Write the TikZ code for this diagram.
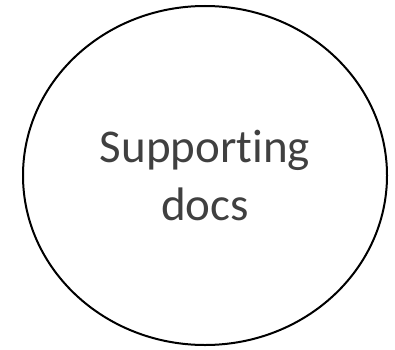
\documentclass[tikz,border=0pt]{standalone}
\usepackage{fontspec}
\setmainfont{Carlito}[Ligatures=NoCommon]
\usepackage{tikz}
\usetikzlibrary{shapes.geometric}
\definecolor{textgrey}{HTML}{404040}
\tikzset{docnode/.style={ellipse, draw=black, line width=2pt, minimum width=364pt, minimum height=339pt, inner sep=0pt, align=center, text=textgrey, font=\fontsize{47}{57}\selectfont},}

\begin{document}
\begin{tikzpicture}[x=1pt, y=1pt]
\useasboundingbox (0,0) rectangle (395,349);
\node [docnode] (docs) at (205,173.5) {Supporting\\docs};
\end{tikzpicture}
\end{document}
